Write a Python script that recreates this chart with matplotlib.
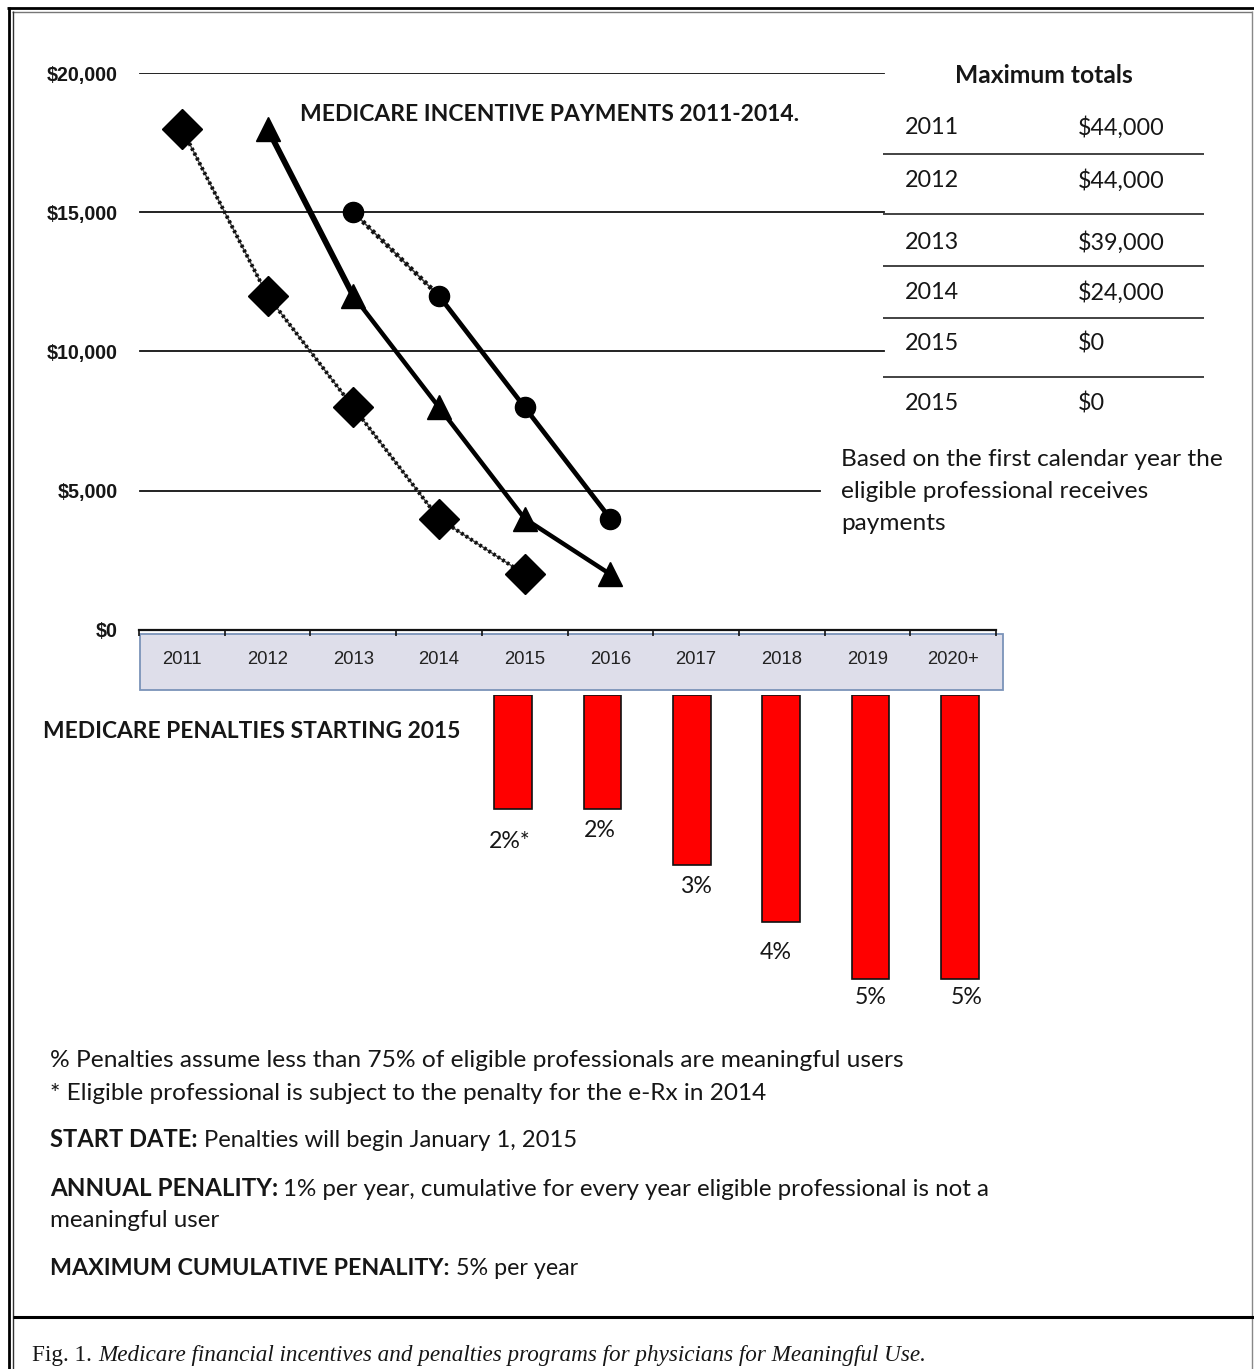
import matplotlib
matplotlib.use("Agg")
import numpy as np
import matplotlib.pyplot as plt
from matplotlib.lines import Line2D
from matplotlib.patches import Rectangle

# ---------------- data ----------------
years = ["2011", "2012", "2013", "2014", "2015", "2016", "2017", "2018", "2019", "2020+"]
start_2011 = [18000, 12000, 8000, 4000, 2000]      # diamonds, first year 2011
start_2012 = [18000, 12000, 8000, 4000, 2000]      # triangles, first year 2012
start_2013 = [15000, 12000, 8000, 4000]            # circles, first year 2013
ytick_values = [0, 5000, 10000, 15000, 20000]
ytick_labels = ["$0", "$5,000", "$10,000", "$15,000", "$20,000"]

penalty_years = ["2015", "2016", "2017", "2018", "2019", "2020+"]
penalty_pct = [2, 2, 3, 4, 5, 5]
penalty_labels = ["2%*", "2%", "3%", "4%", "5%", "5%"]

table_years = ["2011", "2012", "2013", "2014", "2015", "2015"]
table_totals = ["$44,000", "$44,000", "$39,000", "$24,000", "$0", "$0"]

# ---------------- layout helpers ----------------
W, H, DPI = 1254, 1369, 100
PT = 72.0 / DPI          # px -> pt
SANS = "Lato"
ARIAL = "Liberation Sans"
SERIF = "Liberation Serif"
TXT = "#161616"

fig = plt.figure(figsize=(W / DPI, H / DPI), dpi=DPI)
fig.patch.set_facecolor("white")
renderer = fig.canvas.get_renderer()


def fx(px):
    return px / W


def fy(py):
    return 1 - py / H


def measure(s, size, **kw):
    t = fig.text(0, 0, s, fontsize=size, **kw)
    w = t.get_window_extent(renderer).width
    t.remove()
    return w


def fit_size(s, target_w, **kw):
    return 20.0 * target_w / measure(s, 20.0, **kw)


def place(s, x_px, yc_px, size, ha="left", cap=0.36, **kw):
    base_y = yc_px + cap * size / PT
    return fig.text(fx(x_px), fy(base_y), s, fontsize=size, ha=ha, va="baseline",
                    color=kw.pop("color", TXT), **kw)


def put_line(parts, x_px, yc_px, target_w, family=SANS, cap=0.36):
    base = 20.0
    widths = [measure(s, base, family=family, fontweight=wt, fontstyle=st)
              for s, wt, st in parts]
    sp = measure("a a", base, family=family) - measure("aa", base, family=family)
    total = sum(widths) + sp * (len(parts) - 1)
    size = base * target_w / total
    k = size / base
    x = x_px
    for (s, wt, st), w in zip(parts, widths):
        place(s, x, yc_px, size, cap=cap, family=family, fontweight=wt, fontstyle=st)
        x += (w + sp) * k
    return size


def fline(x0, x1, y0, y1, color="#111", lw=1.0, z=5):
    fig.add_artist(Line2D([fx(x0), fx(x1)], [fy(y0), fy(y1)], transform=fig.transFigure,
                          color=color, lw=lw, zorder=z, solid_capstyle="butt"))


# ---------------- line chart (incentives) ----------------
AX_L, AX_R, AX_T, AX_B = 139, 996, 73, 630
ax = fig.add_axes([fx(AX_L), fy(AX_B), (AX_R - AX_L) / W, (AX_B - AX_T) / H])
ax.set_facecolor("none")
ax.set_xlim(-0.5, len(years) - 0.5)
ax.set_ylim(0, 20000)
for sp_name in ["top", "right", "left"]:
    ax.spines[sp_name].set_visible(False)
ax.spines["bottom"].set_linewidth(1.6)
ax.spines["bottom"].set_color("#111")

ysize = fit_size("$20,000", 71, family=ARIAL, fontweight="bold")
xsize = fit_size("2011", 40, family=ARIAL)
ax.set_yticks(ytick_values)
ax.set_yticklabels(ytick_labels, fontsize=ysize, fontweight="bold", family=ARIAL, color=TXT)
ax.tick_params(axis="y", length=0, pad=21 * PT)
ax.set_xticks(range(len(years)))
ax.set_xticklabels(years, fontsize=xsize, family=ARIAL, color="#222222")
ax.set_xticks(np.arange(-0.5, len(years), 1.0), minor=True)
ax.tick_params(axis="x", which="major", length=0, pad=21 * PT)
ax.tick_params(axis="x", which="minor", length=6 * PT, width=1.2, color="#111", direction="out")

grid_end_px = {20000: 884, 15000: 884, 10000: 884, 5000: 820}
for val, end in grid_end_px.items():
    ax.axhline(val, xmin=(140 - AX_L) / (AX_R - AX_L), xmax=(end - AX_L) / (AX_R - AX_L),
               color="#111", lw=1.3, zorder=1)

# diamonds (2011 start) - textured thin line
x1 = np.arange(0, len(start_2011))
ax.plot(x1, start_2011, color="#444", lw=1.0, zorder=3)
ax.plot(x1, start_2011, color="#111", lw=2.8, ls=(0, (0.7, 0.7)), zorder=3)
ax.plot(x1, start_2011, ls="none", marker="D", ms=20.5, color="black", zorder=6, clip_on=False)

# triangles (2012 start) - thick solid line
x2 = np.arange(1, 1 + len(start_2012))
ax.plot(x2[:2], start_2012[:2], color="black", lw=4.2, zorder=4, solid_capstyle="round")
ax.plot(x2[1:], start_2012[1:], color="black", lw=3.2, zorder=4, solid_capstyle="round")
ax.plot(x2, start_2012, ls="none", marker="^", ms=17, color="black", zorder=6, clip_on=False)

# circles (2013 start)
x3 = np.arange(2, 2 + len(start_2013))
ax.plot(x3[:2], start_2013[:2], color="#444", lw=1.2, zorder=3)
ax.plot(x3[:2], start_2013[:2], color="#111", lw=3.4, ls=(0, (0.7, 0.7)), zorder=3)
ax.plot(x3[1:], start_2013[1:], color="black", lw=3.4, zorder=4, solid_capstyle="round")
ax.plot(x3, start_2013, ls="none", marker="o", ms=14.5, color="black", zorder=6, clip_on=False)

# x-axis band behind year labels
fig.add_artist(Rectangle((fx(140), fy(690)), (1003 - 140) / W, (690 - 634) / H,
                         transform=fig.transFigure, facecolor="#DEDEEA",
                         edgecolor="#7B93B9", lw=1.3, zorder=-1))

# ---------------- bar chart (penalties) ----------------
BAR_STEP = 89.4
B_L = 513 - BAR_STEP / 2
B_T, B_B = 695, 1010
PX_PER_PCT = 56.8
ax2 = fig.add_axes([fx(B_L), fy(B_B), BAR_STEP * len(penalty_pct) / W, (B_B - B_T) / H])
ax2.set_facecolor("none")
ax2.set_xlim(-0.5, len(penalty_pct) - 0.5)
ax2.set_ylim((B_B - B_T) / PX_PER_PCT, 0)
ax2.axis("off")
xb = np.arange(len(penalty_pct))
ax2.bar(xb, penalty_pct, width=0.42, color="#FF0000", edgecolor="#111", lw=1.2, zorder=3)

lab_size = fit_size("2%", 27, family=SANS) * 1.18
label_dx_px = [-3, -3, 4, -5, 0, 7]
label_dy_px = [33, 22, 21, 30, 18, 18]
for i, (v, lab) in enumerate(zip(penalty_pct, penalty_labels)):
    ax2.annotate(lab, (xb[i], v), xytext=(label_dx_px[i] * PT, -label_dy_px[i] * PT),
                 textcoords="offset points", ha="center", va="center",
                 fontsize=lab_size, family=SANS, color=TXT, annotation_clip=False)

# ---------------- titles ----------------
put_line([("MEDICARE INCENTIVE PAYMENTS 2011-2014.", "bold", "normal")], 300, 113, 498)
put_line([("MEDICARE PENALTIES STARTING 2015", "bold", "normal")], 43, 729.5, 417)

# ---------------- maximum totals table ----------------
put_line([("Maximum totals", "bold", "normal")], 955, 74, 178)
tsize = fit_size("$44,000", 87, family=SANS)
row_y = [126, 179, 241, 291, 342, 402]
for yv, yr, tot in zip(row_y, table_years, table_totals):
    place(yr, 905, yv, tsize, family=SANS)
    place(tot, 1078, yv, tsize, family=SANS)
for ly in [154, 214, 266, 318, 377]:
    fline(883, 1204, ly, ly, color="#222", lw=1.2)

note = ["Based on the first calendar year the", "eligible professional receives", "payments"]
nsize = fit_size(note[0], 382, family=SANS)
for yv, s in zip([457, 489, 521], note):
    place(s, 841, yv, nsize, family=SANS)

# ---------------- footnotes ----------------
put_line([("% Penalties assume less than 75% of eligible professionals are meaningful users", "normal", "normal")], 50, 1058, 853)
put_line([("* Eligible professional is subject to the penalty for the e-Rx in 2014", "normal", "normal")], 50, 1091, 715)
put_line([("START DATE:", "bold", "normal"), ("Penalties will begin January 1, 2015", "normal", "normal")], 50, 1138, 529)
fs = put_line([("ANNUAL PENALITY:", "bold", "normal"),
               ("1% per year, cumulative for every year eligible professional is not a", "normal", "normal")],
              50, 1187, 940)
place("meaningful user", 50, 1218, fs, family=SANS)
put_line([("MAXIMUM CUMULATIVE PENALITY:", "bold", "normal"), ("5% per year", "normal", "normal")], 50, 1267, 529)

# ---------------- caption ----------------
put_line([("Fig. 1.", "normal", "normal"),
          ("Medicare financial incentives and penalties programs for physicians for Meaningful Use.", "normal", "italic")],
         32, 1353, 896, family=SERIF, cap=0.33)

# ---------------- frame ----------------
fline(7, 1254, 8, 8, color="black", lw=2.0, z=10)
fline(12, 1252, 11.8, 11.8, color="#777", lw=1.0, z=10)
fline(8.7, 8.7, 7, 1369, color="black", lw=2.0, z=10)
fline(13, 13, 11, 1369, color="#333", lw=1.0, z=10)
fline(1252, 1252, 11, 1369, color="#888", lw=1.0, z=10)
fline(13, 1254, 1316.5, 1316.5, color="black", lw=2.2, z=10)

fig.savefig("out.png", dpi=DPI, facecolor="white")
